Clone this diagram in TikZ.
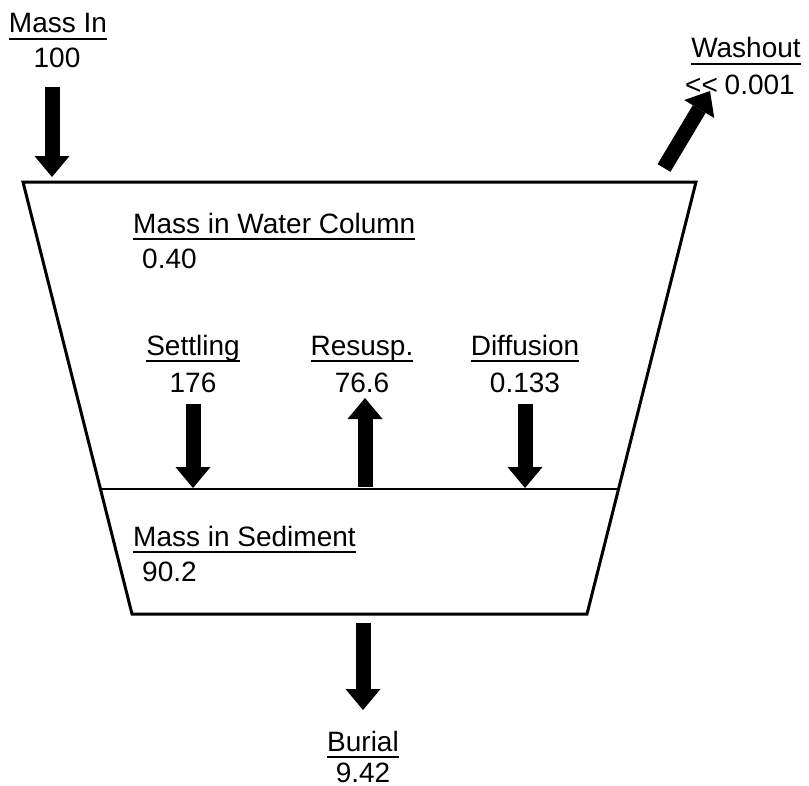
\documentclass[tikz,border=0pt]{standalone}
\usepackage{fontspec}
\setmainfont{Liberation Sans}
\usetikzlibrary{arrows.meta}
\newcommand\ulx[1]{\setbox0\hbox{#1}\rlap{\rule[-7bp]{\wd0}{2bp}}\box0}
\tikzset{
  lbl/.style={inner sep=0pt, anchor=base, font=\fontsize{28bp}{32bp}\selectfont},
  lblw/.style={lbl, anchor=base west},
  box/.style={line width=3bp, line join=miter},
  flow/.style={line width=15bp, line cap=butt, -{Triangle[width=35bp,length=21bp,line width=0pt]}}
}
\begin{document}
\begin{tikzpicture}[x=1bp,y=-1bp]
\useasboundingbox (0,0) rectangle (809,786);
% trapezoid corners
\coordinate (tl) at (23,182);
\coordinate (tr) at (696,182);
\coordinate (br) at (587,614);
\coordinate (bl) at (132,614);
\coordinate (ml) at (101,489);
\coordinate (mr) at (618,489);
\draw[line width=1.5bp] (ml) -- (mr);
\draw[box] (tl) -- (tr) -- (br) -- (bl) -- cycle;
% labels
\node[lbl] (inT) at (58,33) {\ulx{Mass In}};
\node[lbl] (inV) at (57,68) {100};
\node[lbl] (woT) at (746,58) {\ulx{Washout}};
\node[lblw] (woV) at (685,94) {<\kern0pt<\kern-1bp{} 0.001};
\node[lblw] (wcT) at (133,233) {\ulx{Mass in Water Column}};
\node[lblw] (wcV) at (142,268) {0.40};
\node[lbl] (stT) at (193,355) {\ulx{Settling}};
\node[lbl] (stV) at (193,392) {176};
\node[lbl] (rsT) at (362,355) {\ulx{Resusp.}};
\node[lbl] (rsV) at (362,392) {76.6};
\node[lbl] (dfT) at (525,355) {\ulx{Diffusion}};
\node[lbl] (dfV) at (525,392) {0.133};
\node[lblw] (sdT) at (133,546) {\ulx{Mass in Sediment}};
\node[lblw] (sdV) at (142,581) {90.2};
\node[lbl] (buT) at (363,751) {\ulx{Burial}};
\node[lbl] (buV) at (363,782) {9.42};
% arrow ends
\coordinate (a1s) at (52,87);   \coordinate (a1e) at (52,177);
\coordinate (a2s) at (664,168); \coordinate (a2e) at (710,91);
\coordinate (a3s) at (193,404); \coordinate (a3e) at (193,488);
\coordinate (a4s) at (365,487); \coordinate (a4e) at (365,398);
\coordinate (a5s) at (525,404); \coordinate (a5e) at (525,488);
\coordinate (a6s) at (363,623); \coordinate (a6e) at (363,710);
\foreach \i in {1,...,6} \draw[flow] (a\i s) -- (a\i e);
\end{tikzpicture}
\end{document}
